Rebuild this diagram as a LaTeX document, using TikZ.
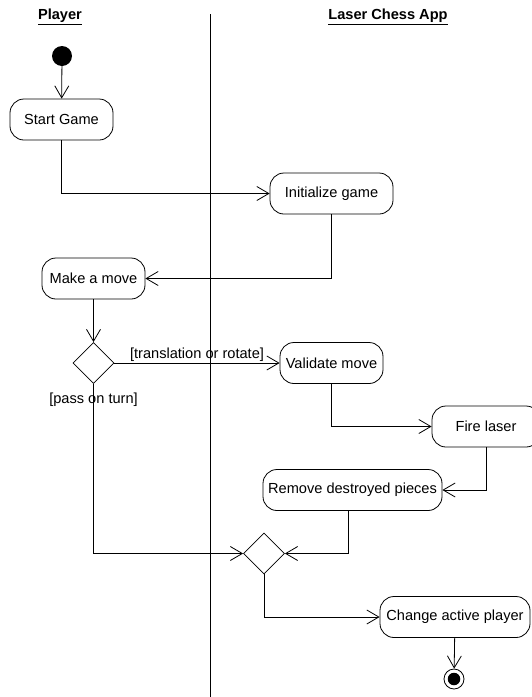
\documentclass[tikz,border=0pt]{standalone}
\usepackage{fontspec}
\setmainfont{Liberation Sans}
\usetikzlibrary{arrows.meta,shapes.geometric}

\tikzset{
  lane/.style={font=\fontsize{14.6}{17}\selectfont\bfseries, inner sep=0pt},
  action/.style={draw, line width=0.8pt, rounded corners=14pt, inner sep=0pt,
    minimum height=41pt, font=\fontsize{14.6}{17}\selectfont},
  decision/.style={draw, diamond, line width=0.8pt, inner sep=0pt,
    minimum width=41pt, minimum height=41pt},
  guard/.style={font=\fontsize{14.6}{17}\selectfont, inner sep=0.6pt},
  flow/.style={line width=0.8pt, -{Straight Barb[length=12pt,width=14pt,line width=0.8pt]}},
  link/.style={line width=0.8pt},
}

\begin{document}
\begin{tikzpicture}[x=1pt,y=-1pt]
\useasboundingbox[fill=white] (0,0) rectangle (531,697);

% swimlane headers and divider
\node[lane] (hplayer) at (60,17) {\underline{Player}};
\node[lane] (happ) at (388,17) {\underline{Laser Chess App}};
\coordinate (divtop) at (210,14);
\coordinate (divbot) at (210,697);
\draw[link] (divtop) -- (divbot);

% start and end
\node[circle, fill=black, minimum size=20pt, inner sep=0pt] (start) at (62,56) {};
\node[circle, draw, line width=0.8pt, minimum size=20pt, inner sep=0pt] (stop) at (454,679) {};
\node[circle, fill=black, minimum size=12.5pt, inner sep=0pt] (stopdot) at (454,679) {};

% actions
\node[action, minimum width=103pt] (startgame) at (61.5,119.5) {Start Game};
\node[action, minimum width=123pt] (initgame) at (331.5,193.5) {Initialize game};
\node[action, minimum width=103pt] (makemove) at (93.5,278.5) {Make a move};
\node[action, minimum width=103pt] (validate) at (331.5,363) {Validate move};
\node[action, minimum width=108pt] (fire) at (486,426.5) {Fire laser};
\node[action, minimum width=179pt] (remove) at (352.5,490) {Remove destroyed pieces};
\node[action, minimum width=150pt] (change) at (455,617) {Change active player};

% decisions
\node[decision] (choice) at (93.5,363) {};
\node[decision] (merge) at (264,553.5) {};

% flows
\draw[flow] (start) -- (startgame);
\draw[flow] (startgame) |- (initgame);
\draw[flow] (initgame) |- (makemove);
\draw[flow] (makemove) -- (choice);
\draw[flow] (choice) -- node[guard, above] {[translation or rotate]} (validate);
\draw[flow] (choice) |- (merge);
\node[guard, anchor=north] (passlbl) at ([yshift=-8pt]choice.south) {[pass on turn]};
\draw[flow] (validate) |- (fire);
\draw[flow] (fire.south) |- (remove);
\draw[flow] ([xshift=-4.5pt]remove.south) |- (merge);
\draw[flow] (merge) |- (change);
\draw[flow] (change) -- (stop);
\end{tikzpicture}
\end{document}
